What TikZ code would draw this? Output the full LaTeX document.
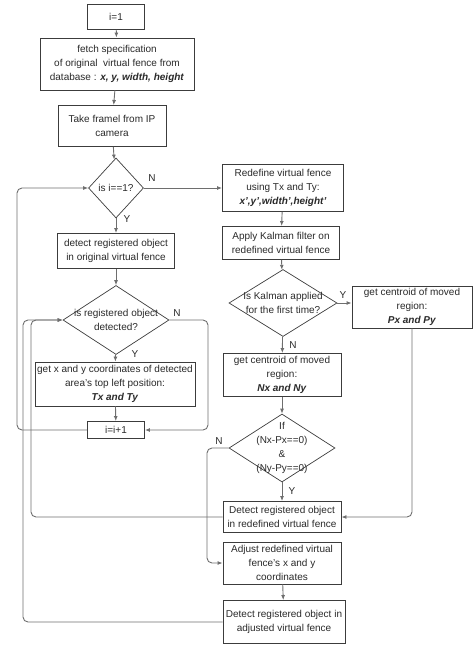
\documentclass[tikz,border=0pt]{standalone}
\usepackage{fontspec}
\setmainfont{Liberation Sans}
\usetikzlibrary{arrows.meta, positioning, calc, shapes.geometric}
\definecolor{boxline}{HTML}{3C3C3C}
\definecolor{wireline}{HTML}{6E6E6E}
\definecolor{inktext}{HTML}{2A2A2A}
\tikzset{
  fbox/.style={draw=boxline, line width=0.9pt, fill=white, align=center,
    inner sep=1pt, text=inktext},
  fdec/.style={draw=boxline, line width=0.7pt, diamond, inner sep=0pt},
  wire/.style={draw=wireline, line width=0.9pt, rounded corners=5pt,
    -{Latex[length=5pt, width=4pt]}},
  tag/.style={text=inktext, inner sep=0pt}
}
\newcommand{\flowbox}[5]{%
  \node[fbox, minimum width=#3, minimum height=#4] (#1) at (#2) {#5};}
\newcommand{\flowdec}[5]{%
  \node[fdec, minimum width=#3, minimum height=#4] (#1) at (#2) {};
  \node[align=center, text=inktext, inner sep=0pt] (#1t) at (#1) {#5};}
\newcommand{\hl}[1]{\textbf{\textit{#1}}}

\begin{document}
\begin{tikzpicture}[x=1pt, y=-1pt, font=\fontsize{10}{14}\selectfont]
  \useasboundingbox (0,0) rectangle (476,650);
  % left column
  \flowbox{init}{116,17}{57}{25}{i=1}
  \flowbox{fetch}{117,64}{154}{52}{fetch specification\\
    of original\ \ virtual fence from\\ database\ : \hl{x, y, width, height}}
  \flowbox{frame}{112,126}{108}{41}{Take framel from IP\\ camera}
  \flowdec{first}{116,188}{55}{60}{is i==1?}
  \flowbox{detorig}{116,251}{117}{35}{detect registered object\\
    in original virtual fence}
  \flowdec{found}{116,320}{106}{69}{is registered object\\ detected?}
  \flowbox{topleft}{115,384}{160}{44}{get x and y coordinates of detected\\
    area's top left position:\\ \hl{Tx and Ty}}
  \flowbox{incr}{116,430}{57}{17}{i=i+1}
  % right column
  \flowbox{redef}{283,188}{121}{47}{Redefine virtual fence\\
    using Tx and Ty:\\ \hl{x',y',width',height'}}
  \flowbox{kalman}{281,243}{117}{33}{Apply Kalman filter on\\
    redefined virtual fence}
  \flowdec{once}{283,303}{108}{67}{Is Kalman applied\\ for the first time?}
  \flowbox{prevc}{412,307}{120}{42}{get centroid of moved\\ region:\\
    \hl{Px and Py}}
  \flowbox{newc}{282,375}{118}{43}{get centroid of moved\\ region:\\
    \hl{Nx and Ny}}
  \flowdec{same}{282,448}{106}{68}{If\\ (Nx-Px==0)\\ \&\\ (Ny-Py==0)}
  \flowbox{detredef}{282,517}{118}{31}{Detect registered object\\
    in redefined virtual fence}
  \flowbox{adjust}{282,563}{118}{42}{Adjust redefined virtual\\
    fence's x and y\\ coordinates}
  \flowbox{detadj}{284,622}{122}{43}{Detect registered object in\\
    adjusted virtual fence}
  % lanes for the loop-backs
  \coordinate (laneA) at (17,0);
  \coordinate (laneB) at (23,0);
  \coordinate (laneC) at (31,0);
  \coordinate (laneD) at (208,0);
  \coordinate (laneE) at (207,0);
  % straight arrows
  \draw[wire] (init) -- (fetch);
  \draw[wire] (fetch) -- (frame);
  \draw[wire] (frame) -- (first);
  \draw[wire] (first) -- (detorig);
  \draw[wire] (detorig) -- (found);
  \draw[wire] (found) -- (topleft);
  \draw[wire] (topleft) -- (incr);
  \draw[wire] (first.east) -- (redef.west);
  \draw[wire] (redef) -- (kalman);
  \draw[wire] (kalman) -- (once);
  \draw[wire] (once.east) -- (once.east -| prevc.west);
  \draw[wire] (once) -- (newc);
  \draw[wire] (newc) -- (same);
  \draw[wire] (same) -- (detredef);
  \draw[wire] (adjust) -- (detadj);
  % bent arrows
  \draw[wire] (found.east) -| (laneD |- incr.east) -- (incr.east);
  \draw[wire] (incr.west) -| (laneA |- first.west) -- (first.west);
  \draw[wire] (prevc.south) |- (detredef.east);
  \draw[wire] (same.west) -| (laneE |- adjust.west) -- (adjust.west);
  \draw[wire] (detredef.west) -| (laneC |- found.west) -- (found.west);
  \draw[wire] (detadj.west) -| (laneB |- found.west) -- (found.west);
  % branch labels
  \node[tag] at (152,178) {N};
  \node[tag] at (127,219) {Y};
  \node[tag] at (177,313) {N};
  \node[tag] at (135,354) {Y};
  \node[tag] at (343,295) {Y};
  \node[tag] at (293,345) {N};
  \node[tag] at (219,441) {N};
  \node[tag] at (292,491) {Y};
\end{tikzpicture}
\end{document}
